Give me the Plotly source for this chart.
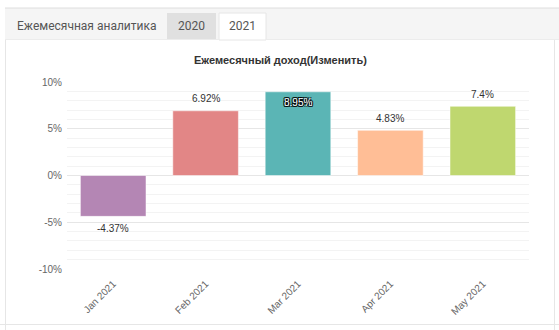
import plotly.graph_objects as go

months = ["Jan 2021", "Feb 2021", "Mar 2021", "Apr 2021", "May 2021"]
returns = [-4.37, 6.92, 8.95, 4.83, 7.4]
labels = ["-4.37%", "6.92%", "8.95%", "4.83%", "7.4%"]
colors = ["#b486b4", "#e28686", "#5bb5b5", "#ffbe96", "#bfd76f"]
label_inside = [False, False, True, False, False]
ytick_vals = [-10, -5, 0, 5, 10]
ytick_text = ["-10%", "-5%", "0%", "5%", "10%"]

W, H = 559, 330
ML, MR, MT, MB = 67, 30, 82, 61
PW = W - ML - MR
PH = H - MT - MB


def px(x):
    return (x - ML) / PW


def py(y):
    return (H - MB - y) / PH


fig = go.Figure()
fig.add_trace(go.Bar(
    x=months, y=returns,
    marker=dict(color=colors, line=dict(width=1, color="rgba(255,255,255,0.5)")),
    hoverinfo="skip",
))

shapes = []
# header strip
shapes.append(dict(type="rect", xref="paper", yref="paper", x0=px(5), x1=px(559), y0=py(39), y1=py(8),
                   fillcolor="#f5f5f5", line=dict(width=0), layer="below"))
shapes.append(dict(type="line", xref="paper", yref="paper", x0=px(5), x1=px(559), y0=py(8), y1=py(8),
                   line=dict(color="#dedede", width=1)))
shapes.append(dict(type="rect", xref="paper", yref="paper", x0=px(167), x1=px(216), y0=py(39), y1=py(13),
                   fillcolor="#e0e0e0", line=dict(width=0), layer="below"))
shapes.append(dict(type="rect", xref="paper", yref="paper", x0=px(219), x1=px(266), y0=py(40), y1=py(13),
                   fillcolor="#ffffff", line=dict(color="#e6e6e6", width=1), layer="below"))
shapes.append(dict(type="line", xref="paper", yref="paper", x0=px(5), x1=px(219), y0=py(39.5), y1=py(39.5),
                   line=dict(color="#ececec", width=1)))
shapes.append(dict(type="line", xref="paper", yref="paper", x0=px(266), x1=px(559), y0=py(39.5), y1=py(39.5),
                   line=dict(color="#ececec", width=1)))
# panel borders
shapes.append(dict(type="line", xref="paper", yref="paper", x0=px(5.5), x1=px(5.5), y0=py(40), y1=py(330),
                   line=dict(color="#e6e6e6", width=1)))
shapes.append(dict(type="line", xref="paper", yref="paper", x0=px(554.5), x1=px(554.5), y0=py(40), y1=py(330),
                   line=dict(color="#e6e6e6", width=1)))
shapes.append(dict(type="line", xref="paper", yref="paper", x0=px(0), x1=px(559), y0=py(324.5), y1=py(324.5),
                   line=dict(color="#e6e6e6", width=1)))
# hide bottom gridline
shapes.append(dict(type="line", xref="paper", yref="y", x0=0, x1=1, y0=-10, y1=-10,
                   line=dict(color="#ffffff", width=2), layer="below"))

annotations = [
    dict(text="Ежемесячная аналитика", x=px(86), y=py(26), xref="paper", yref="paper", showarrow=False,
         font=dict(size=12, color="#555", family="Roboto"), xanchor="center", yanchor="middle"),
    dict(text="2020", x=px(191.5), y=py(26), xref="paper", yref="paper", showarrow=False,
         font=dict(size=12, color="#555", family="Roboto"), xanchor="center", yanchor="middle"),
    dict(text="2021", x=px(242.5), y=py(26), xref="paper", yref="paper", showarrow=False,
         font=dict(size=12, color="#555", family="Roboto"), xanchor="center", yanchor="middle"),
    dict(text="<b>Ежемесячный доход(Изменить)</b>", x=px(280), y=py(60), xref="paper", yref="paper",
         showarrow=False, font=dict(size=11, color="#333", family="Liberation Sans, Arial"),
         xanchor="center", yanchor="middle"),
]

for m, v, t, inside in zip(months, returns, labels, label_inside):
    if inside:
        shift = -11
        font = dict(size=10, color="#ffffff", family="Liberation Sans, Arial",
                    shadow="1px 1px 0 #000, -1px -1px 0 #000, 1px -1px 0 #000, -1px 1px 0 #000")
    else:
        shift = 12 if v >= 0 else -12
        font = dict(size=10, color="#333", family="Liberation Sans, Arial")
    annotations.append(dict(text=t, x=m, y=v, xref="x", yref="y", showarrow=False,
                            yshift=shift, xanchor="center", yanchor="middle", font=font))

fig.update_layout(
    width=W, height=H, margin=dict(l=ML, r=MR, t=MT, b=MB),
    paper_bgcolor="#ffffff", plot_bgcolor="#ffffff",
    showlegend=False, bargap=0.29,
    shapes=shapes, annotations=annotations,
    font=dict(family="Liberation Sans, Arial", color="#666"),
)
fig.update_yaxes(
    range=[-10, 10], tickvals=ytick_vals, ticktext=ytick_text,
    showgrid=True, gridcolor="#e6e6e6", gridwidth=1,
    zeroline=True, zerolinecolor="#e6e6e6", zerolinewidth=1,
    minor=dict(dtick=1, showgrid=True, gridcolor="#f3f3f3", gridwidth=1, ticks=""),
    tickfont=dict(size=10, color="#666"), ticks="", ticklabelstandoff=4,
    fixedrange=True,
)
fig.update_xaxes(
    tickangle=-45, tickfont=dict(size=10, color="#666"), showgrid=False,
    ticks="", ticklabelstandoff=6, showline=False, fixedrange=True,
)

fig.write_html("out.html", config={"displayModeBar": False})
